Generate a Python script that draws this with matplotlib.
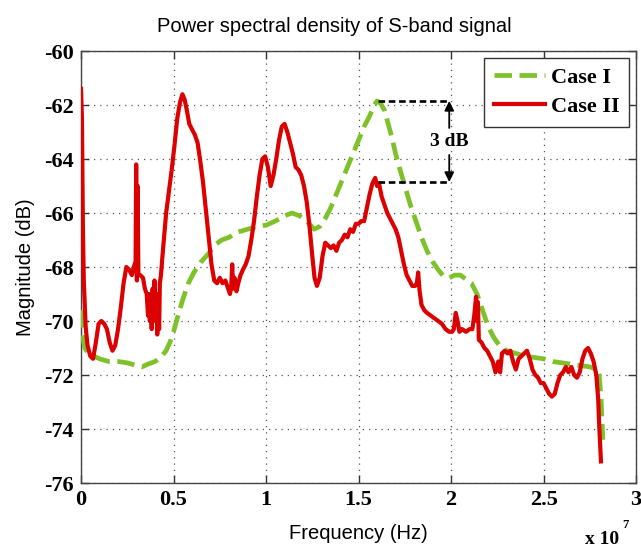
import numpy as np
import matplotlib
matplotlib.use("Agg")
import matplotlib.pyplot as plt

plt.rcParams["axes.unicode_minus"] = False

# ---------- spectrum data (frequency in units of 1e7 Hz, magnitude in dB) ----------
case1_f = [0.000, 0.010, 0.020, 0.040, 0.070, 0.100, 0.150, 0.200, 0.250, 0.300,
           0.330, 0.360, 0.400, 0.430, 0.460, 0.480, 0.500, 0.520, 0.550, 0.580,
           0.610, 0.650, 0.690, 0.720, 0.760, 0.800, 0.850, 0.900, 0.950, 1.000,
           1.050, 1.100, 1.140, 1.180, 1.220, 1.260, 1.290, 1.320, 1.350, 1.380,
           1.410, 1.440, 1.470, 1.500, 1.530, 1.560, 1.585, 1.600, 1.620, 1.640,
           1.660, 1.680, 1.700, 1.720, 1.750, 1.780, 1.810, 1.840, 1.870, 1.900,
           1.930, 1.960, 1.990, 2.020, 2.050, 2.080, 2.110, 2.140, 2.170, 2.200,
           2.230, 2.260, 2.300, 2.350, 2.400, 2.450, 2.500, 2.550, 2.600, 2.650,
           2.700, 2.750, 2.790, 2.800, 2.810, 2.820]
case1_db = [-69.6, -70.6, -71.0, -71.2, -71.3, -71.4, -71.5, -71.5, -71.55, -71.65,
            -71.7, -71.6, -71.5, -71.35, -71.1, -70.8, -70.4, -69.9, -69.2, -68.6,
            -68.2, -67.8, -67.5, -67.2, -67.0, -66.9, -66.7, -66.6, -66.5, -66.45,
            -66.3, -66.1, -66.0, -66.1, -66.3, -66.6, -66.5, -66.2, -65.8, -65.3,
            -64.8, -64.3, -63.8, -63.3, -62.8, -62.4, -62.0, -61.85, -61.95, -62.2,
            -62.7, -63.2, -63.8, -64.3, -65.0, -65.7, -66.3, -66.9, -67.4, -67.8,
            -68.1, -68.35, -68.4, -68.3, -68.3, -68.45, -68.6, -69.0, -69.6, -70.2,
            -70.6, -70.9, -71.1, -71.2, -71.3, -71.35, -71.4, -71.5, -71.55, -71.6,
            -71.65, -71.7, -71.8, -72.0, -72.8, -74.4]

case2_f = [0.000, 0.005, 0.010, 0.015, 0.025, 0.035, 0.050, 0.065, 0.080, 0.095,
           0.110, 0.125, 0.140, 0.155, 0.170, 0.185, 0.200, 0.215, 0.230, 0.245,
           0.260, 0.275, 0.285, 0.295, 0.298, 0.302, 0.306, 0.310, 0.320, 0.335,
           0.345, 0.355, 0.362, 0.367, 0.372, 0.377, 0.382, 0.387, 0.392, 0.397,
           0.402, 0.407, 0.412, 0.417, 0.422, 0.426, 0.432, 0.440, 0.450, 0.460,
           0.475, 0.490, 0.505, 0.520, 0.535, 0.548, 0.560, 0.572, 0.585, 0.600,
           0.615, 0.630, 0.645, 0.660, 0.675, 0.690, 0.705, 0.720, 0.735, 0.750,
           0.765, 0.780, 0.795, 0.805, 0.812, 0.817, 0.822, 0.830, 0.840, 0.850,
           0.862, 0.875, 0.890, 0.905, 0.920, 0.935, 0.950, 0.965, 0.980, 0.995,
           1.010, 1.025, 1.040, 1.055, 1.070, 1.085, 1.100, 1.115, 1.130, 1.145,
           1.160, 1.175, 1.190, 1.205, 1.220, 1.235, 1.250, 1.262, 1.275, 1.290,
           1.305, 1.320, 1.335, 1.350, 1.365, 1.380, 1.395, 1.410, 1.425, 1.440,
           1.455, 1.470, 1.485, 1.500, 1.515, 1.530, 1.545, 1.560, 1.575, 1.590,
           1.600, 1.610, 1.625, 1.640, 1.655, 1.670, 1.685, 1.700, 1.715, 1.730,
           1.745, 1.760, 1.775, 1.790, 1.805, 1.815, 1.822, 1.830, 1.840, 1.855,
           1.870, 1.890, 1.910, 1.930, 1.950, 1.970, 1.990, 2.005, 2.015, 2.025,
           2.035, 2.045, 2.060, 2.080, 2.100, 2.115, 2.125, 2.135, 2.140, 2.145,
           2.150, 2.165, 2.180, 2.195, 2.210, 2.225, 2.240, 2.255, 2.265, 2.275,
           2.290, 2.305, 2.320, 2.335, 2.350, 2.365, 2.380, 2.395, 2.410, 2.425,
           2.440, 2.455, 2.470, 2.485, 2.500, 2.515, 2.530, 2.545, 2.560, 2.575,
           2.590, 2.605, 2.620, 2.635, 2.650, 2.665, 2.680, 2.695, 2.710, 2.725,
           2.740, 2.755, 2.770, 2.785, 2.795, 2.800, 2.805, 2.810]
case2_db = [-61.4, -62.5, -66.5, -68.5, -70.2, -70.9, -71.3, -71.4, -70.8, -70.1,
            -70.0, -70.1, -70.3, -70.8, -71.1, -70.9, -70.3, -69.5, -68.6, -68.0,
            -68.1, -68.3, -68.0, -67.8, -64.2, -68.5, -65.0, -68.3, -68.3, -68.4,
            -68.8, -69.0, -69.8, -69.0, -70.0, -69.2, -70.3, -68.8, -69.8, -68.5,
            -70.0, -69.0, -70.5, -69.2, -70.3, -68.6, -68.3, -67.6, -66.8, -66.0,
            -65.2, -64.4, -63.5, -62.5, -61.9, -61.6, -61.8, -62.2, -62.7, -62.9,
            -63.1, -63.4, -64.1, -64.9, -65.9, -66.9, -67.9, -68.5, -68.6, -68.4,
            -68.6, -68.5, -68.8, -69.0, -68.7, -67.9, -68.8, -68.4, -68.9, -68.6,
            -68.3, -68.1, -67.9, -67.6, -67.0, -66.3, -65.4, -64.6, -64.0, -63.9,
            -64.3, -65.0, -64.6, -64.0, -63.3, -62.8, -62.7, -63.0, -63.4, -63.8,
            -64.3, -64.4, -64.6, -65.0, -65.6, -66.5, -67.6, -68.4, -68.7, -68.4,
            -67.6, -67.1, -67.2, -67.3, -67.2, -67.4, -67.1, -67.0, -66.8, -66.9,
            -66.6, -66.7, -66.4, -66.4, -66.3, -66.3, -65.8, -65.3, -64.9, -64.7,
            -65.0, -64.9, -65.4, -65.7, -66.0, -66.2, -66.4, -66.6, -66.9, -67.4,
            -67.9, -68.3, -68.5, -68.7, -68.7, -68.6, -68.2, -68.9, -69.4, -69.6,
            -69.7, -69.8, -69.9, -70.0, -70.1, -70.3, -70.4, -70.4, -70.3, -69.7,
            -70.0, -70.4, -70.3, -70.4, -70.3, -70.3, -69.8, -69.1, -70.0, -69.3,
            -70.7, -70.8, -71.0, -71.1, -71.3, -71.5, -71.9, -71.5, -71.9, -71.2,
            -71.1, -71.2, -71.1, -71.5, -71.8, -71.4, -71.3, -71.2, -71.1, -71.4,
            -71.8, -72.0, -72.1, -72.3, -72.3, -72.5, -72.7, -72.8, -72.7, -72.3,
            -72.0, -71.9, -71.7, -71.9, -71.7, -72.0, -72.1, -71.9, -71.4, -71.1,
            -71.0, -71.2, -71.5, -72.0, -72.9, -73.8, -74.5, -75.2]

# peak levels marked by the 3 dB annotation
peak_case1 = -61.85
peak_case2 = -64.85

xticks = [0, 0.5, 1, 1.5, 2, 2.5, 3]
xtick_labels = ["0", "0.5", "1", "1.5", "2", "2.5", "3"]
yticks = [-76, -74, -72, -70, -68, -66, -64, -62, -60]

green = "#7fc12a"
red = "#dc0000"
serif = "Liberation Serif"
sans = "Liberation Sans"

fig = plt.figure(figsize=(6.41, 5.48), dpi=100)
ax = fig.add_axes([0.1264, 0.1186, 0.866, 0.7883])

ax.plot(case1_f, case1_db, color=green, lw=3.4, ls="--", label="Case I", zorder=3)
ax.plot(case2_f, case2_db, color=red, lw=3.0, label="Case II", zorder=4)

# 3 dB difference marker
xa = 1.99
ax.plot([1.605, xa], [peak_case1, peak_case1], color="black", lw=1.9, ls=(0, (2.5, 1.4)), zorder=5)
ax.plot([1.605, xa], [peak_case2, peak_case2], color="black", lw=1.9, ls=(0, (2.5, 1.4)), zorder=5)
ax.annotate("", xy=(xa, peak_case1), xytext=(xa, -62.85),
            arrowprops=dict(arrowstyle="-|>", color="black", lw=1.3, mutation_scale=14,
                            shrinkA=0, shrinkB=0), zorder=6)
ax.annotate("", xy=(xa, peak_case2), xytext=(xa, -63.85),
            arrowprops=dict(arrowstyle="-|>", color="black", lw=1.3, mutation_scale=14,
                            shrinkA=0, shrinkB=0), zorder=6)
ax.text(xa, -63.35, "3 dB", ha="center", va="center", fontsize=14,
        fontweight="bold", family=serif, zorder=6,
        bbox=dict(facecolor="white", edgecolor="none", pad=0.5))

ax.set_xlim(0, 3)
ax.set_ylim(-76, -60)
ax.set_xticks(xticks)
ax.set_xticklabels(xtick_labels)
ax.set_yticks(yticks)
ax.grid(True, color="#555555", ls=(0, (1, 4)), lw=0.9)
ax.tick_params(direction="in", length=6, width=1, top=True, right=True,
               labelsize=16, colors="#333333")
ax.tick_params(axis="y", pad=5)
ax.tick_params(axis="x", pad=5)
for lbl in ax.get_xticklabels() + ax.get_yticklabels():
    lbl.set_family(serif)
    lbl.set_fontweight("bold")
    lbl.set_color("black")
for sp in ax.spines.values():
    sp.set_color("#444444")
    sp.set_linewidth(1.0)

ax.set_xlabel("Frequency (Hz)", family=sans, fontsize=14.5, labelpad=10)
ax.set_ylabel("Magnitude (dB)", family=sans, fontsize=14.5, labelpad=7)
ax.set_title("Power spectral density of S-band signal", family=sans, fontsize=14.5, pad=14)
ax.title.set_x(0.456)

leg = ax.legend(loc="upper right", prop={"family": serif, "weight": "bold", "size": 16},
                frameon=True, fancybox=False, framealpha=1, edgecolor="#333333",
                handlelength=2.3, handletextpad=0.25, borderpad=0.45, labelspacing=0.35,
                borderaxespad=0.3)
leg.get_frame().set_linewidth(1.0)

# exponent of the frequency axis
fig.text(0.912, 0.008, "x 10", family=serif, fontweight="bold", fontsize=14, ha="left", va="baseline")
fig.text(0.970, 0.036, "7", family=serif, fontweight="bold", fontsize=9, ha="left", va="baseline")

fig.savefig("out.png", dpi=100)
